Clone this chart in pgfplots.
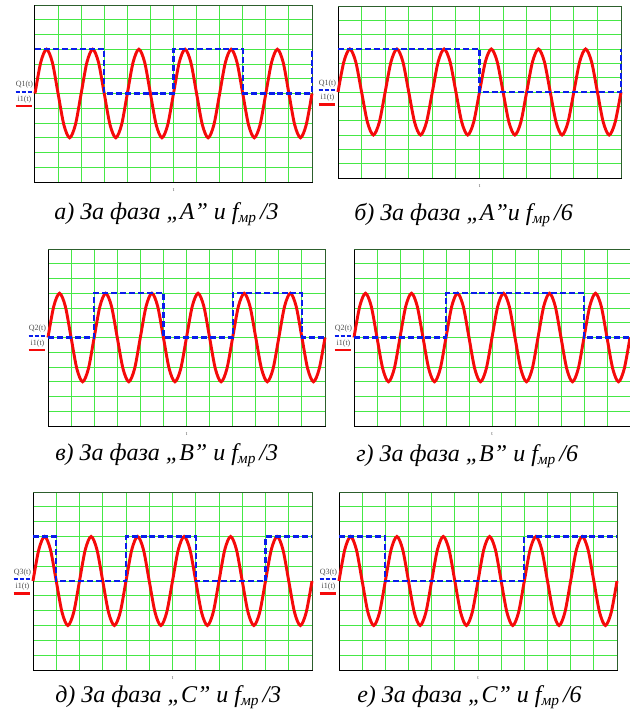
\documentclass[border=0pt]{standalone}
\usepackage{fontspec}
\setmainfont{Liberation Serif}
\usepackage{pgfplots}
\pgfplotsset{compat=1.18}
\usepackage{pgfplotstable}
\definecolor{gridgreen}{RGB}{70,232,70}
\definecolor{edgegreen}{RGB}{45,95,45}
\definecolor{sigblue}{RGB}{10,30,235}
\definecolor{sigred}{RGB}{245,10,10}

% i1(t): same current in every panel
\pgfplotstableread[row sep=\\]{
x y\\
0 0\\ 0.25 2.12\\ 0.5 3\\ 0.75 2.12\\ 1 0\\ 1.25 -2.12\\ 1.5 -3\\ 1.75 -2.12\\
2 0\\ 2.25 2.12\\ 2.5 3\\ 2.75 2.12\\ 3 0\\ 3.25 -2.12\\ 3.5 -3\\ 3.75 -2.12\\
4 0\\ 4.25 2.12\\ 4.5 3\\ 4.75 2.12\\ 5 0\\ 5.25 -2.12\\ 5.5 -3\\ 5.75 -2.12\\
6 0\\ 6.25 2.12\\ 6.5 3\\ 6.75 2.12\\ 7 0\\ 7.25 -2.12\\ 7.5 -3\\ 7.75 -2.12\\
8 0\\ 8.25 2.12\\ 8.5 3\\ 8.75 2.12\\ 9 0\\ 9.25 -2.12\\ 9.5 -3\\ 9.75 -2.12\\
10 0\\ 10.25 2.12\\ 10.5 3\\ 10.75 2.12\\ 11 0\\ 11.25 -2.12\\ 11.5 -3\\ 11.75 -2.12\\
12 0\\
}\current

% switching signals Q1..Q3
\pgfplotstableread{
x y
0 3
3 3
3 0
6 0
6 3
9 3
9 0
12 0
12 3
}\qAthree
\pgfplotstableread{
x y
0 3
6 3
6 0
12 0
12 3
}\qAsix
\pgfplotstableread{
x y
0 0
2 0
2 3
5 3
5 0
8 0
8 3
11 3
11 0
12 0
}\qBthree
\pgfplotstableread{
x y
0 0
4 0
4 3
10 3
10 0
12 0
}\qBsix
\pgfplotstableread{
x y
0 3
1 3
1 0
4 0
4 3
7 3
7 0
10 0
10 3
12 3
}\qCthree
\pgfplotstableread{
x y
0 3
2 3
2 0
8 0
8 3
12 3
}\qCsix

\pgfplotsset{
  panel/.style={
    anchor=north west, scale only axis,
    xmin=0, xmax=12, ymin=-6, ymax=6,
    xtick={0,...,12}, ytick={-6,...,6},
    xticklabels={}, yticklabels={},
    major tick length=0pt,
    grid=major, grid style={line width=0.75pt, gridgreen},
    axis line style={line width=0.75pt, black},
    clip=false,
  },
  qline/.style={sigblue, line width=1.7pt, dash pattern=on 4.5pt off 2.2pt},
  iline/.style={sigred, line width=2.2pt, smooth},
}
\newcommand\frameedge{\draw[edgegreen, line width=0.75pt] (rel axis cs:0,1) -- (rel axis cs:1,1) -- (rel axis cs:1,0);}
\newcommand\legendbox[1]{%
  \node[anchor=east, inner sep=0, text=black!70, font=\fontsize{6}{6}\selectfont, xshift=-1.2pt, yshift=6.4pt] at (rel axis cs:0,0.5) {Q#1(t)};
  \draw[sigblue, line width=1.5pt, dash pattern=on 3pt off 1.5pt] ([xshift=-14.5pt, yshift=1.2pt]rel axis cs:0,0.5) -- ([xshift=-2pt, yshift=1.2pt]rel axis cs:0,0.5);
  \node[anchor=east, inner sep=0, text=black!70, font=\fontsize{6}{6}\selectfont, xshift=-2.5pt, yshift=-4.5pt] at (rel axis cs:0,0.5) {i1(t)};
  \draw[sigred, line width=1.6pt] ([xshift=-14.5pt, yshift=-9.4pt]rel axis cs:0,0.5) -- ([xshift=-2pt, yshift=-9.4pt]rel axis cs:0,0.5);
  \node[inner sep=0, text=black!70, font=\fontsize{4}{4}\selectfont, yshift=-6pt] at (rel axis cs:0.5,0) {t};
}
\newcommand\capfont{\fontsize{18}{18}\selectfont\itshape}
\newcommand\fmr{f\raisebox{-0.35ex}{\fontsize{11.5}{11.5}\selectfont мр}}

\begin{document}
\begin{tikzpicture}
\useasboundingbox (0,0) rectangle (471.75pt,-533.25pt);

% а) phase A, f/3
\begin{axis}[panel, at={(26.25pt,-3.75pt)}, width=207.75pt, height=132.75pt]
\frameedge
\addplot[iline] table {\current};
\addplot[qline] table {\qAthree};
\legendbox{1}
\end{axis}

% б) phase A, f/6
\begin{axis}[panel, at={(253.5pt,-4.5pt)}, width=212.25pt, height=129pt]
\frameedge
\addplot[iline] table {\current};
\addplot[qline] table {\qAsix};
\legendbox{1}
\end{axis}

% в) phase B, f/3
\begin{axis}[panel, at={(36pt,-186.75pt)}, width=207.75pt, height=132.75pt]
\frameedge
\addplot[iline] table {\current};
\addplot[qline] table {\qBthree};
\legendbox{2}
\end{axis}

% г) phase B, f/6
\begin{axis}[panel, at={(265.5pt,-186.75pt)}, width=207pt, height=132.75pt]
\frameedge
\addplot[iline] table {\current};
\addplot[qline] table {\qBsix};
\legendbox{2}
\end{axis}

% д) phase C, f/3
\begin{axis}[panel, at={(24.75pt,-369pt)}, width=209.25pt, height=133.5pt]
\frameedge
\addplot[iline] table {\current};
\addplot[qline] table {\qCthree};
\legendbox{3}
\end{axis}

% е) phase C, f/6
\begin{axis}[panel, at={(254.25pt,-369pt)}, width=208.5pt, height=133.5pt]
\frameedge
\addplot[iline] table {\current};
\addplot[qline] table {\qCsix};
\legendbox{3}
\end{axis}

\node[anchor=base west, inner sep=0, font=\capfont] at (40.5pt,-164.25pt) {а) За фаза „А” и \fmr\,/3};
\node[anchor=base west, inner sep=0, font=\capfont] at (265.5pt,-165pt) {б) За фаза „А”и \fmr\,/6};
\node[anchor=base west, inner sep=0, font=\capfont] at (41.25pt,-345pt) {в) За фаза „В” и \fmr\,/3};
\node[anchor=base west, inner sep=0, font=\capfont] at (267pt,-345.75pt) {г) За фаза „В” и \fmr\,/6};
\node[anchor=base west, inner sep=0, font=\capfont] at (41.25pt,-526.5pt) {д) За фаза „С” и \fmr\,/3};
\node[anchor=base west, inner sep=0, font=\capfont] at (267.75pt,-526.5pt) {е) За фаза „С” и \fmr\,/6};
\end{tikzpicture}
\end{document}
